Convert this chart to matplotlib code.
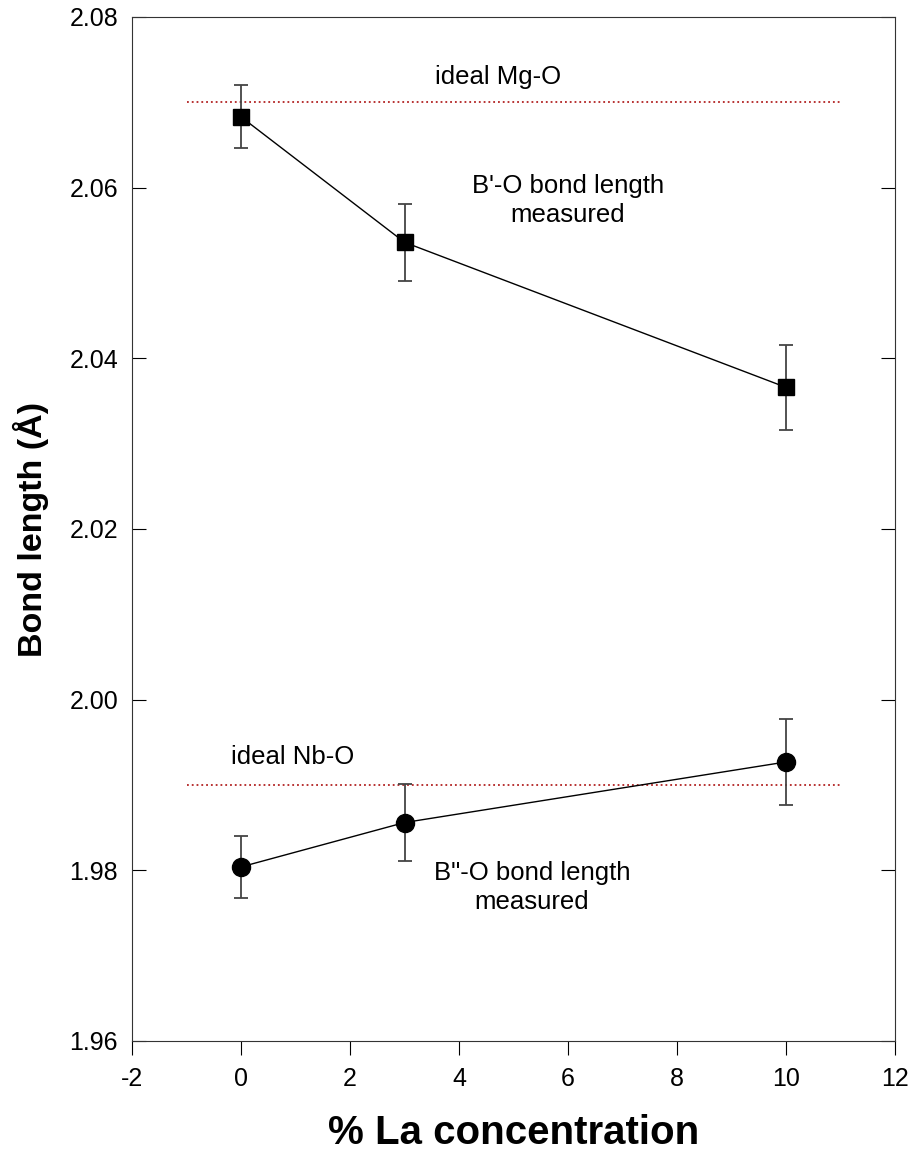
import numpy as np
import matplotlib.pyplot as plt

plt.rcParams['font.family'] = ['Liberation Sans', 'DejaVu Sans']
plt.rcParams['axes.unicode_minus'] = False

# datos
la_conc = [0, 3, 10]
b1_len = [2.0683, 2.0536, 2.0366]   # B'-O
b1_err = [0.0037, 0.0045, 0.0050]
b2_len = [1.9804, 1.9856, 1.9927]   # B''-O
b2_err = [0.0036, 0.0045, 0.0050]

ideal_x = [-1, 11]
ideal_mg = 2.07
ideal_nb = 1.99

fig = plt.figure(figsize=(9.14, 11.56), dpi=100)
ax = fig.add_axes([132/914, 1 - 1041/1156, 763/914, 1024/1156])

ax.plot(ideal_x, [ideal_mg, ideal_mg], ':', color='#b22222', lw=1.3)
ax.plot(ideal_x, [ideal_nb, ideal_nb], ':', color='#b22222', lw=1.3)

ax.errorbar(la_conc, b1_len, yerr=b1_err, fmt='-s', color='black', ms=12,
            lw=1, ecolor='#444444', elinewidth=1.3, capsize=5, capthick=1.3)
ax.errorbar(la_conc, b2_len, yerr=b2_err, fmt='-o', color='black', ms=13,
            lw=1, ecolor='#444444', elinewidth=1.3, capsize=5, capthick=1.3)

ax.text(4.72, 2.0730, 'ideal Mg-O', fontsize=18.5, ha='center', va='center')
ax.text(6.0, 2.0585, "B'-O bond length\nmeasured", fontsize=18.5, ha='center',
        va='center', linespacing=1.3)
ax.text(0.95, 1.9933, 'ideal Nb-O', fontsize=18.5, ha='center', va='center')
ax.text(5.34, 1.9780, 'B"-O bond length\nmeasured', fontsize=18.5, ha='center',
        va='center', linespacing=1.3)

ax.set_xlim(-2, 12)
ax.set_ylim(1.96, 2.08)
ax.set_xticks(np.arange(-2, 13, 2))
ax.set_yticks(np.arange(1.96, 2.081, 0.02))
ax.set_yticklabels(['%.2f' % v for v in np.arange(1.96, 2.081, 0.02)])
ax.tick_params(axis='x', direction='out', length=10, labelsize=18, pad=9)
ax.tick_params(axis='y', direction='in', length=10, labelsize=18, right=True, pad=10)
for s in ax.spines.values():
    s.set_color('#333333')

ax.set_xlabel('% La concentration', fontsize=29, fontweight='bold', labelpad=16)
ax.set_ylabel('Bond length (Å)', fontsize=24.5, fontweight='bold', labelpad=15)

fig.savefig('out.png', dpi=100)
